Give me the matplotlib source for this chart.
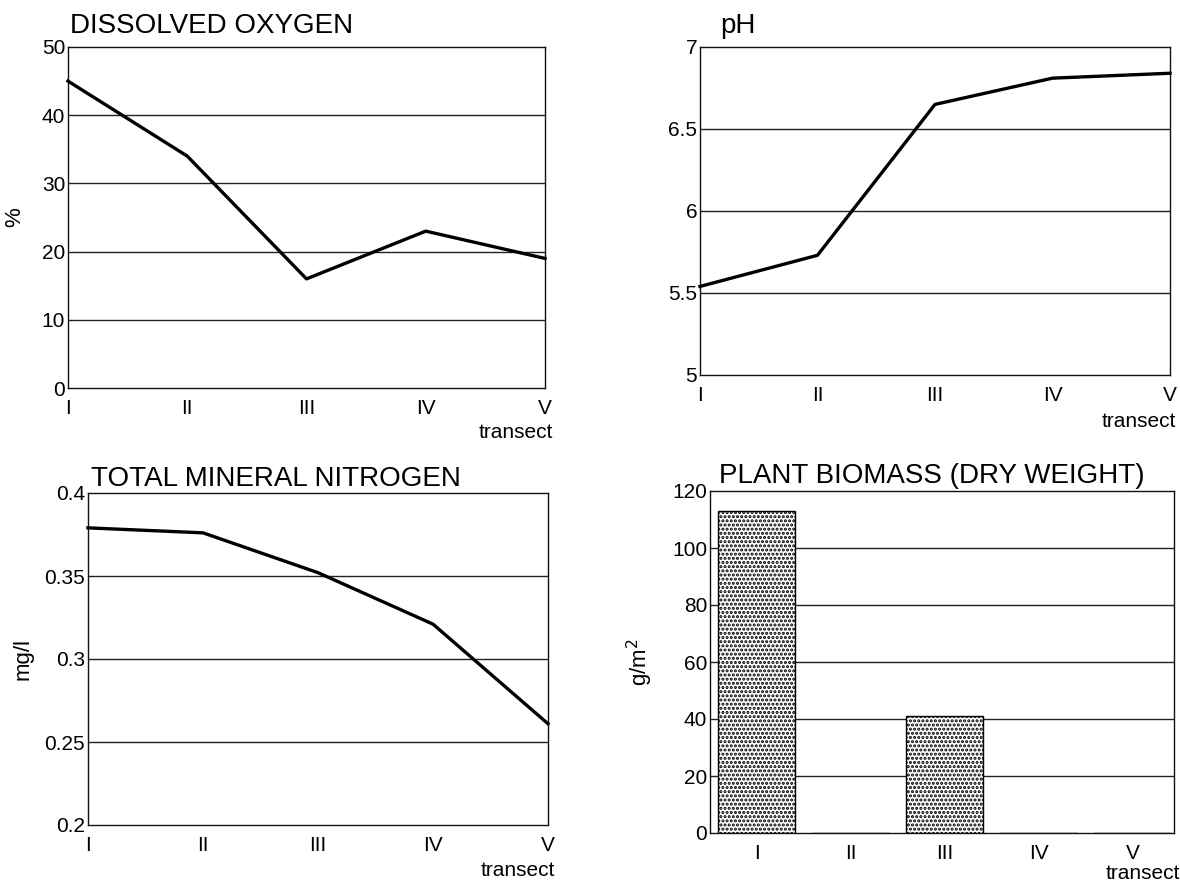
import numpy as np
import matplotlib
matplotlib.use("Agg")
import matplotlib.pyplot as plt

plt.rcParams['font.family'] = ['Liberation Sans', 'DejaVu Sans']
plt.rcParams['hatch.linewidth'] = 1.5

transects = ['I', 'II', 'III', 'IV', 'V']

oxygen = [45, 34, 16, 23, 19]
ph = [5.54, 5.73, 6.65, 6.81, 6.84]
nitrogen = [0.379, 0.376, 0.352, 0.321, 0.261]
biomass = [113, 0, 41, 0, 0]

oxygen_ticks = [0, 10, 20, 30, 40, 50]
ph_ticks = [5, 5.5, 6, 6.5, 7]
ph_labels = ['5', '5.5', '6', '6.5', '7']
nitrogen_ticks = [0.2, 0.25, 0.3, 0.35, 0.4]
nitrogen_labels = ['0.2', '0.25', '0.3', '0.35', '0.4']
biomass_ticks = [0, 20, 40, 60, 80, 100, 120]

W, H = 1180, 882
fig = plt.figure(figsize=(11.8, 8.82), dpi=100)


def box(l, t, r, b):
    return [l / W, 1 - b / H, (r - l) / W, (b - t) / H]


def style(ax, ticks, labels, ylim):
    ax.set_ylim(*ylim)
    ax.set_yticks(ticks)
    ax.set_yticklabels(labels, fontsize=15)
    ax.tick_params(axis='both', length=0, pad=2)
    ax.tick_params(axis='x', labelsize=15, pad=8)
    for t in ticks[1:-1]:
        ax.axhline(t, color='#222222', lw=1.0, zorder=1)
    for s in ax.spines.values():
        s.set_linewidth(1.0)
        s.set_color('#111111')


def line_panel(rect, vals, ticks, labels, ylim):
    ax = fig.add_axes(box(*rect))
    x = np.arange(len(transects))
    ax.plot(x, vals, color='black', lw=2.4, zorder=3, clip_on=False)
    ax.set_xlim(0, len(transects) - 1)
    ax.set_xticks(x)
    ax.set_xticklabels(transects)
    style(ax, ticks, labels, ylim)
    return ax


# dissolved oxygen
ax1 = line_panel((68, 47, 545, 388), oxygen, oxygen_ticks,
                 [str(t) for t in oxygen_ticks], (0, 50))
ax1.set_ylabel('%', fontsize=16, labelpad=12)
fig.text(70 / W, 1 - 33 / H, 'DISSOLVED OXYGEN', fontsize=20, va='baseline')
fig.text(553 / W, 1 - 438 / H, 'transect', fontsize=15, ha='right', va='baseline')

# pH
ax2 = line_panel((700, 47, 1170, 375), ph, ph_ticks, ph_labels, (5, 7))
fig.text(720 / W, 1 - 33 / H, 'pH', fontsize=20, va='baseline')
fig.text(1176 / W, 1 - 427 / H, 'transect', fontsize=15, ha='right', va='baseline')

# nitrogen
ax3 = line_panel((88, 493, 548, 825), nitrogen, nitrogen_ticks,
                 nitrogen_labels, (0.2, 0.4))
ax3.set_ylabel('mg/l', fontsize=16, labelpad=8)
fig.text(91 / W, 1 - 486 / H, 'TOTAL MINERAL NITROGEN', fontsize=20, va='baseline')
fig.text(555 / W, 1 - 876 / H, 'transect', fontsize=15, ha='right', va='baseline')

# plant biomass
ax4 = fig.add_axes(box(710, 491, 1174, 833))
xb = np.arange(len(transects))
ax4.bar(xb, biomass, width=0.82, color='white', edgecolor='black',
        hatch='....', linewidth=1.0, zorder=3)
ax4.set_xlim(-0.5, 4.44)
ax4.set_xticks(xb)
ax4.set_xticklabels(transects)
style(ax4, biomass_ticks, [str(t) for t in biomass_ticks], (0, 120))
ax4.set_ylabel('g/m$^2$', fontsize=16, labelpad=12)
fig.text(719 / W, 1 - 483 / H, 'PLANT BIOMASS (DRY WEIGHT)', fontsize=20, va='baseline')
fig.text(1180 / W, 1 - 879 / H, 'transect', fontsize=15, ha='right', va='baseline')

fig.savefig('out.png', dpi=100)
